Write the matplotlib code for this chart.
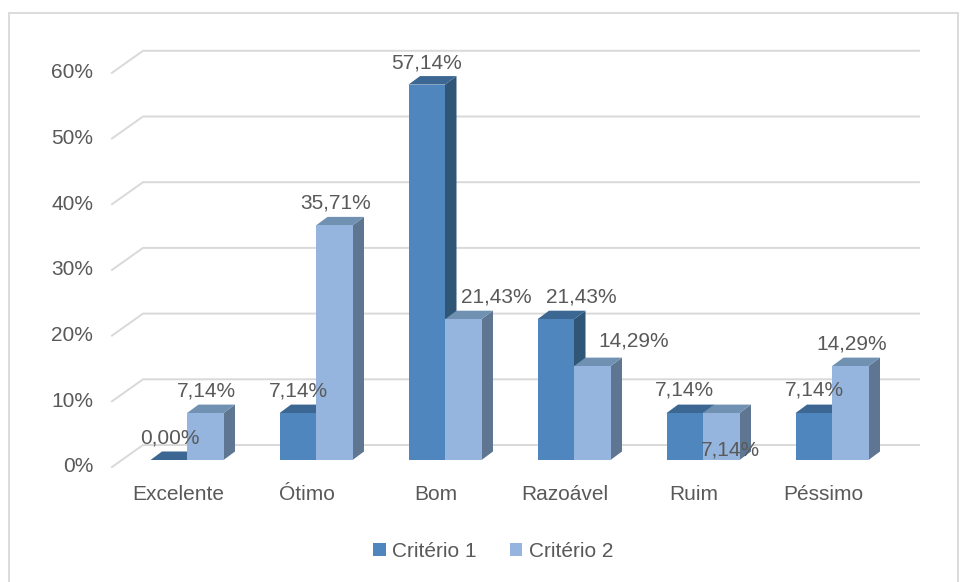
import matplotlib.pyplot as plt
import matplotlib.patches as patches
from matplotlib.patches import Polygon, Patch

plt.rcParams['font.family'] = ['Liberation Sans', 'DejaVu Sans']

categorias = ['Excelente', 'Ótimo', 'Bom', 'Razoável', 'Ruim', 'Péssimo']
criterio1 = [0.00, 7.14, 57.14, 21.43, 7.14, 7.14]
criterio2 = [7.14, 35.71, 21.43, 14.29, 7.14, 14.29]
series = ['Critério 1', 'Critério 2']
ticks = [0, 10, 20, 30, 40, 50, 60]

# face colours: front, top, side
cores = [('#4f86bd', '#3b6792', '#2f5577'),
         ('#95b5de', '#7191b3', '#5e7692')]
texto = '#595959'
fs = 15

# label offsets in pixels from the default spot (bar centre, above top)
desloc1 = [(1, 0), (1, 0), (0, 0), (26, 0), (0, 1), (1, 1)]
desloc2 = [(1, 0), (1, 0), (33, 0), (41, 3), (9, -59), (1, 0)]

W, H = 969, 582
fig = plt.figure(figsize=(W / 100, H / 100), dpi=100)
ax = fig.add_axes([0, 0, 1, 1])
ax.set_axis_off()

# one category = 129 px, 1 % = 6.57 px
px_cat = 129.0
px_pct = 6.57
x0, y0 = 187.0, 460.0
ax.set_xlim(-x0 / px_cat, (W - x0) / px_cat)
ax.set_ylim(-(H - y0) / px_pct, y0 / px_pct)

largura = 36.5 / px_cat
dx, dy = 11.5 / px_cat, 8.5 / px_pct          # bar depth
fy = -7 / px_pct                              # floor front edge
by = 15 / px_pct                              # back wall
x_frente = (112 - x0) / px_cat
x_fundo = (143 - x0) / px_cat
x_fim = (919 - x0) / px_cat

# gridlines: slanted part on the left wall and the back wall line
for g in ticks:
    ax.plot([x_frente, x_fundo, x_fim], [g + fy, g + by, g + by],
            color='#d9d9d9', lw=1.4, zorder=1)
    ax.text(x_frente - 19 / px_cat, g + fy, f'{g}%', ha='right',
            va='center', fontsize=fs, color=texto)


def barra(xl, h, cor, z):
    xr = xl + largura
    frente, topo, lado = cor
    ax.add_patch(Polygon([(xr, 0), (xr, h), (xr + dx, h + dy), (xr + dx, dy)],
                         closed=True, fc=lado, ec='none', zorder=z))
    ax.add_patch(Polygon([(xl, h), (xr, h), (xr + dx, h + dy), (xl + dx, h + dy)],
                         closed=True, fc=topo, ec='none', zorder=z))
    if h > 0:
        ax.add_patch(patches.Rectangle((xl, 0), largura, h, fc=frente,
                                       ec='none', zorder=z))


def rotulo(xc, h, desloc):
    txt = f'{h:.2f}'.replace('.', ',') + '%'
    ax.annotate(txt, (xc, h), xytext=(desloc[0], 22 + desloc[1]),
                textcoords='offset pixels', ha='center', va='center',
                fontsize=fs, color=texto, zorder=50)


for i in range(len(categorias)):
    z = 2 + i * 2
    barra(i - largura, criterio1[i], cores[0], z)
    barra(i, criterio2[i], cores[1], z + 1)
    rotulo(i - largura / 2, criterio1[i], desloc1[i])
    rotulo(i + largura / 2, criterio2[i], desloc2[i])
    ax.text(i - 0.07, -35 / px_pct, categorias[i], ha='center', va='center',
            fontsize=fs, color=texto)

handles = [Patch(fc=cores[0][0], ec='none'), Patch(fc=cores[1][0], ec='none')]
fig.legend(handles, series, loc='center', bbox_to_anchor=(0.509, 0.053),
           ncol=2, frameon=False, fontsize=fs, handlelength=0.6,
           handleheight=0.6, handletextpad=0.3, columnspacing=1.6,
           labelcolor=texto)

# chart frame
fig.add_artist(patches.Rectangle((9 / W, -0.01), (958 - 9) / W,
                                 (H - 13) / H + 0.01, transform=fig.transFigure,
                                 fill=False, ec='#d9d9d9', lw=1.3))

fig.savefig('out.png', dpi=100, facecolor='white')
